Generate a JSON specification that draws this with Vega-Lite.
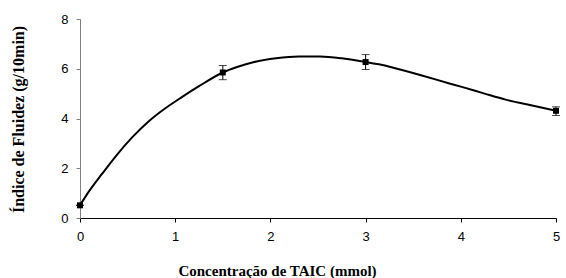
{
  "$schema": "https://vega.github.io/schema/vega-lite/v6.json",
  "autosize": {"type": "none"},
  "width": 476,
  "height": 199,
  "padding": {"left": 80, "top": 19, "right": 10, "bottom": 60},
  "background": "white",
  "config": {"view": {"stroke": null}, "axis": {"grid": false}},
  "datasets": {
    "curve": [
      {"x": 0, "y": 0.51}, {"x": 0.08, "y": 0.99}, {"x": 0.235, "y": 1.79}, {"x": 0.39, "y": 2.55},
      {"x": 0.55, "y": 3.25}, {"x": 0.72, "y": 3.88}, {"x": 0.9, "y": 4.42}, {"x": 1.07, "y": 4.86},
      {"x": 1.25, "y": 5.3}, {"x": 1.5, "y": 5.85}, {"x": 1.65, "y": 6.07}, {"x": 1.82, "y": 6.26},
      {"x": 2.06, "y": 6.42}, {"x": 2.3, "y": 6.49},
      {"x": 2.52, "y": 6.49}, {"x": 2.75, "y": 6.42}, {"x": 3.0, "y": 6.27}, {"x": 3.14, "y": 6.18},
      {"x": 3.3, "y": 6.03}, {"x": 3.6, "y": 5.72}, {"x": 3.88, "y": 5.41}, {"x": 4.01, "y": 5.27},
      {"x": 4.25, "y": 5.0}, {"x": 4.47, "y": 4.76}, {"x": 4.75, "y": 4.52}, {"x": 5, "y": 4.31}
    ],
    "points": [
      {"x": 0, "y": 0.51, "lo": 0.51, "hi": 0.51},
      {"x": 1.5, "y": 5.85, "lo": 5.56, "hi": 6.13},
      {"x": 3, "y": 6.27, "lo": 5.97, "hi": 6.57},
      {"x": 5, "y": 4.31, "lo": 4.12, "hi": 4.47}
    ]
  },
  "layer": [
    {
      "data": {"name": "curve"},
      "mark": {"type": "line", "color": "black", "strokeWidth": 2, "interpolate": "monotone"},
      "encoding": {
        "x": {
          "field": "x", "type": "quantitative",
          "scale": {"domain": [0, 5], "nice": false},
          "axis": {
            "values": [0, 1, 2, 3, 4, 5], "format": "d", "labelFlush": false, "labelBound": false,
            "title": "Concentração de TAIC (mmol)",
            "labelFont": "Liberation Sans", "labelFontSize": 13, "labelColor": "black", "labelPadding": 8,
            "tickSize": 4, "tickColor": "black", "domainColor": "black",
            "titleFont": "Liberation Serif", "titleFontSize": 15, "titleFontWeight": "bold", "titleColor": "black",
            "titleX": 197, "titleY": 57, "titleBaseline": "alphabetic", "titleAlign": "center"
          }
        },
        "y": {
          "field": "y", "type": "quantitative",
          "scale": {"domain": [0, 8], "nice": false},
          "axis": {
            "values": [0, 2, 4, 6, 8], "format": "d", "labelFlush": false, "labelBound": false,
            "title": "Índice de Fluidez (g/10min)",
            "labelFont": "Liberation Sans", "labelFontSize": 13, "labelColor": "black", "labelPadding": 8,
            "tickSize": 4, "tickColor": "#808080", "domainColor": "#808080",
            "titleFont": "Liberation Serif", "titleFontSize": 16, "titleFontWeight": "bold", "titleColor": "black",
            "titleX": -57, "titleY": 100, "titleBaseline": "alphabetic", "titleAlign": "center", "titleAngle": -90
          }
        }
      }
    },
    {
      "data": {"name": "points"},
      "mark": {"type": "rule", "color": "black", "strokeWidth": 1},
      "encoding": {
        "x": {"field": "x", "type": "quantitative"},
        "y": {"field": "lo", "type": "quantitative"},
        "y2": {"field": "hi"}
      }
    },
    {
      "data": {"name": "points"},
      "mark": {"type": "tick", "orient": "horizontal", "color": "black", "size": 8, "thickness": 1},
      "encoding": {
        "x": {"field": "x", "type": "quantitative"},
        "y": {"field": "lo", "type": "quantitative"}
      }
    },
    {
      "data": {"name": "points"},
      "mark": {"type": "tick", "orient": "horizontal", "color": "black", "size": 8, "thickness": 1},
      "encoding": {
        "x": {"field": "x", "type": "quantitative"},
        "y": {"field": "hi", "type": "quantitative"}
      }
    },
    {
      "data": {"name": "points"},
      "mark": {"type": "square", "color": "black", "filled": true, "opacity": 1, "size": 36},
      "encoding": {
        "x": {"field": "x", "type": "quantitative"},
        "y": {"field": "y", "type": "quantitative"}
      }
    }
  ]
}
